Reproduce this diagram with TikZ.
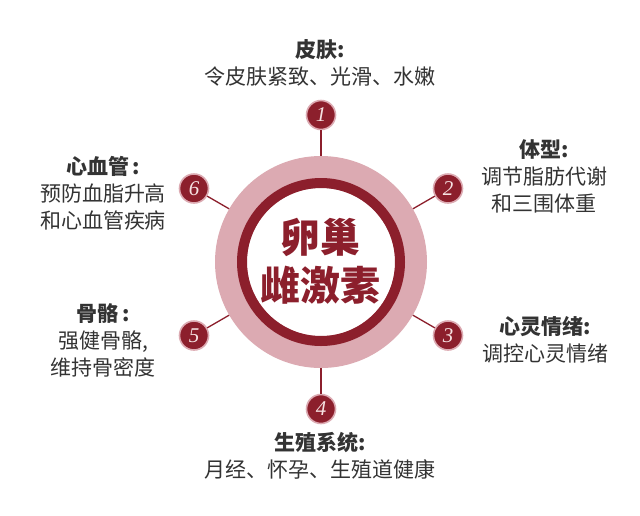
\documentclass[tikz,border=0pt]{standalone}
\usepackage{fontspec}
\newfontfamily\cjk{Noto Sans CJK SC}
\newfontfamily\numfont{Liberation Serif}
\definecolor{dred}{HTML}{8C1F2C}
\definecolor{lpink}{HTML}{DCAAB2}
\definecolor{tgray}{HTML}{333333}
\definecolor{numc}{HTML}{F6E2E2}
\tikzset{
  numcirc/.style={circle, fill=dred, draw=lpink, line width=1.6pt, minimum size=29pt, inner sep=0pt,
    text=numc, font=\numfont\itshape\fontsize{21}{21}\selectfont},
  conn/.style={draw=dred, line width=1.3pt},
  lbl/.style={align=center, text=tgray, font=\cjk\fontsize{21}{27}\selectfont, inner sep=0pt},
}
\begin{document}
\begin{tikzpicture}[x=1pt,y=-1pt]
\useasboundingbox[fill=white] (0,0) rectangle (640,515);
% central circle
\node[circle, fill=lpink, minimum size=212pt, inner sep=0pt] (big) at (321,262) {};
\fill[white] (big.center) circle (74pt);
\draw[dred, line width=10pt] (big.center) circle (79pt);
\node[align=center, text=dred, font=\cjk\bfseries\fontsize{40}{48}\selectfont, inner sep=0pt] (title) at (320,261) {卵巢\\雌激素};
% numbered circles
\node[numcirc] (n1) at (321,115) {1};
\node[numcirc] (n2) at (448,188.5) {2};
\node[numcirc] (n3) at (448,335.5) {3};
\node[numcirc] (n4) at (321,409) {4};
\node[numcirc] (n5) at (194,335.5) {5};
\node[numcirc] (n6) at (194,188.5) {6};
\foreach \n in {n1,n2,n3,n4,n5,n6} {\draw[conn] (\n) -- (big);}
% labels
\node[lbl] (l1) at (320,63) {{\bfseries 皮肤:}\\令皮肤紧致、光滑、水嫩};
\node[lbl] (l2) at (544,176) {{\bfseries 体型:}\\调节脂肪代谢\\和三围体重};
\node[lbl] (l3) at (545,340) {{\bfseries 心灵情绪:}\\调控心灵情绪};
\node[lbl] (l4) at (320,456) {{\bfseries 生殖系统:}\\月经、怀孕、生殖道健康};
\node[lbl] (l5) at (103,340) {{\bfseries 骨骼\,:}\\强健骨骼,\\维持骨密度};
\node[lbl] (l6) at (103,193) {{\bfseries 心血管\,:}\\预防血脂升高\\和心血管疾病};
\end{tikzpicture}
\end{document}
